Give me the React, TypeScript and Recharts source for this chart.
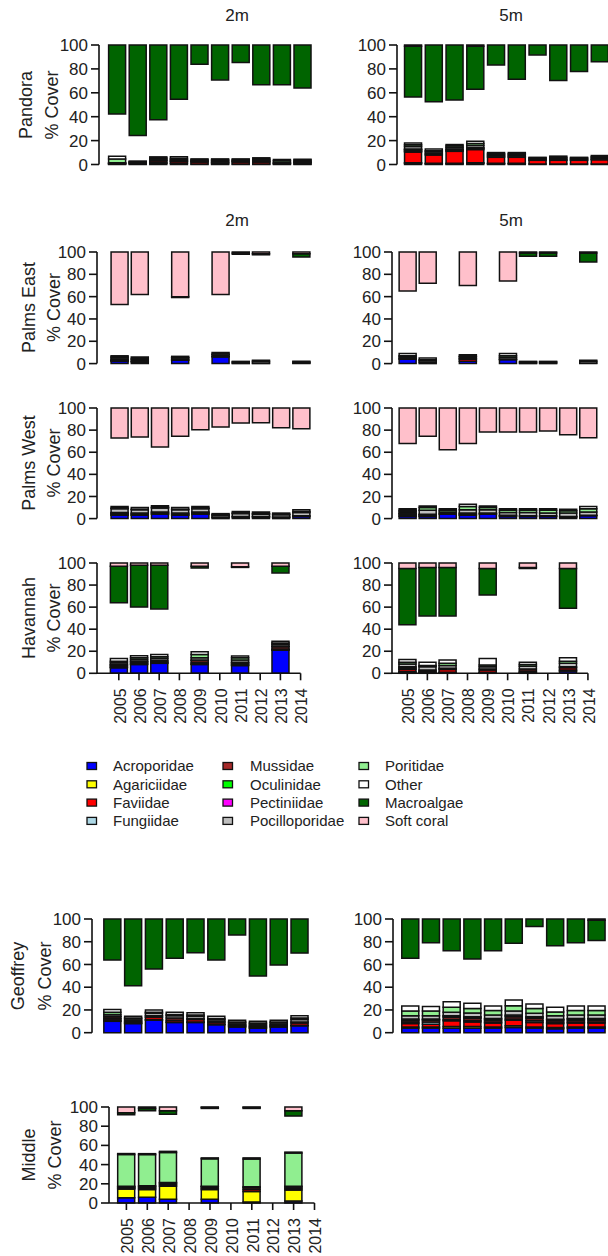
import React from 'react';
import { BarChart, Bar, XAxis, YAxis } from 'recharts';

const FONT = '"Liberation Sans", Arial, Helvetica, sans-serif';

const YEARS = ['2005', '2006', '2007', '2008', '2009', '2010', '2011', '2012', '2013', '2014'];
const Y_TICKS = [0, 20, 40, 60, 80, 100];

const SERIES_NAMES = [
  'Acroporidae', 'Agariciidae', 'Faviidae', 'Fungiidae', 'Mussidae', 'Oculinidae',
  'Pectiniidae', 'Pocilloporidae', 'Poritidae', 'Other', 'Macroalgae', 'Soft coral',
];
const SERIES_KEYS = ['acro', 'agar', 'favi', 'fung', 'muss', 'ocul', 'pect', 'poci', 'pori', 'other', 'macro', 'soft'];
const SERIES_COLORS = [
  '#0000FF', '#FFFF00', '#FF0000', '#ADD8E6', '#A52A2A', '#00FF00',
  '#FF00FF', '#BEBEBE', '#90EE90', '#FFFFFF', '#006400', '#FFC0CB',
];

// rows per year: [acro, agar, favi, fung, muss, ocul, pect, poci, pori, other, macro, soft]
const pandora2m = [
  [0.3, 0, 0.5, 0, 0.3, 0, 0, 0.4, 3, 2.5, 57.8, 0],
  [0.5, 0, 0.5, 0, 0.5, 0, 0, 0.5, 0.5, 0.3, 75.8, 0],
  [1, 0.5, 1.5, 0, 0.5, 0, 0, 1, 1, 0.9, 62.5, 0],
  [1, 0, 1.5, 0, 0.5, 0, 0, 1, 1, 1.4, 45.3, 0],
  [0.5, 0, 1.5, 0, 0.5, 0, 0, 0.7, 0.7, 0.8, 16.1, 0],
  [0.5, 0, 1, 0, 0.5, 0, 0, 1, 0.9, 0.8, 29.2, 0],
  [0.5, 0, 1.5, 0, 0.5, 0, 0, 0.7, 0.7, 0.8, 14.7, 0],
  [0.5, 0, 1.5, 0, 0.5, 0, 0, 1, 1, 1.1, 33.3, 0],
  [0.5, 0, 0.5, 0, 0, 0, 0, 0.7, 1.5, 1, 33.3, 0],
  [0.5, 0, 1, 0, 0.3, 0, 0, 1, 1, 0.5, 36, 0],
];
const pandora5m = [
  [1, 0.5, 9, 0.5, 1, 0.5, 0.5, 2, 1.5, 1.5, 42.5, 1],
  [0.5, 0.5, 7, 0, 1, 0, 0, 1.5, 1, 1.5, 47.5, 0],
  [0.5, 0.5, 10, 0, 1, 0.5, 0, 1.5, 1.5, 1.2, 46, 0],
  [1, 0.5, 11, 0, 1, 0.5, 0, 2, 1.5, 2, 36, 1],
  [0.5, 0.5, 5, 0, 1, 0, 0, 1, 1, 1, 16.7, 0],
  [0.5, 0.5, 5, 0, 1, 0, 0, 1, 1, 1, 28.6, 0],
  [0.5, 0, 3, 0, 0.5, 0, 0, 1, 0.5, 0.5, 8.3, 0],
  [0.5, 0, 3, 0, 0.5, 0, 0, 1, 1, 1, 29.7, 0],
  [0.5, 0, 3, 0, 0.5, 0, 0, 1, 0.5, 0.5, 22.2, 0],
  [0.5, 0, 3.5, 0, 0.5, 0, 0, 1, 1, 1, 14, 0],
];
const palmsEast2m = [
  [2, 0.5, 0.5, 0, 0.5, 0, 0, 1.5, 1, 1, 0, 47],
  [1.5, 0, 0.5, 0, 0, 0, 0, 1.5, 1, 1.5, 0, 38],
  null,
  [3, 0, 0.5, 0, 0, 0, 0, 1.5, 0.5, 1, 0.8, 40],
  null,
  [6, 0, 0.5, 0, 0, 0, 0, 1.5, 0.5, 1.5, 0, 38],
  [0.5, 0, 0, 0, 0, 0, 0, 1, 0, 0.5, 1, 1],
  [0.5, 0, 0, 0, 0, 0, 0, 1.5, 0, 1, 1, 1.5],
  null,
  [0.5, 0, 0, 0, 0, 0, 0, 1, 0, 0.5, 3, 1.5],
];
const palmsEast5m = [
  [4, 0, 0.5, 0, 0, 0, 0, 1.5, 1, 2, 0, 35],
  [1, 0, 0, 0, 0, 0, 0, 1.5, 1, 1.5, 0, 28],
  null,
  [2, 0, 2, 0, 0.5, 0, 0, 1.5, 0.5, 1.5, 0, 30],
  null,
  [3.5, 0, 0.5, 0, 0, 0, 0, 1.5, 1.5, 2, 0, 26],
  [0.5, 0, 0, 0, 0, 0, 0, 1, 0, 0.5, 3, 0.8],
  [0.5, 0, 0, 0, 0, 0, 0, 1, 0, 0.5, 3, 0.8],
  null,
  [0.5, 0, 0, 0, 0, 0, 0, 1.5, 0, 1, 8, 1],
];
const palmsWest2m = [
  [3, 0.5, 1, 0.5, 0.5, 0, 0, 3.5, 0.5, 1.5, 0, 27.1],
  [3, 0.5, 1, 0, 0.5, 0, 0, 3, 0.5, 1.5, 0, 26.2],
  [4, 0.5, 1, 0, 0.5, 0, 0, 3.5, 0.7, 1.5, 0, 35.2],
  [3, 0.5, 1, 0, 0.5, 0, 0, 3, 0.5, 1.5, 0, 25.6],
  [4, 0.5, 1, 0, 0.5, 0, 0, 3, 0.5, 1.5, 0, 19.6],
  [1, 0, 0.5, 0, 0, 0, 0, 1.5, 0.5, 1, 0, 17.2],
  [1.5, 0, 0.5, 0, 0, 0, 0, 2.5, 0.5, 1.5, 0, 13.6],
  [1.5, 0, 0.5, 0, 0, 0, 0, 2, 0.5, 1.5, 0, 13.3],
  [1, 0, 0.5, 0, 0, 0, 0, 2, 0.5, 1, 0, 17.8],
  [2, 0, 0.5, 0, 0, 0, 0, 3, 1, 1.5, 0, 18.7],
];
const palmsWest5m = [
  [2, 0.5, 1.5, 0.5, 0.5, 0, 0, 1.5, 1, 1.5, 0, 32.2],
  [2, 0.5, 1, 0, 0.5, 0, 0, 3.5, 2.5, 1.5, 0, 25.6],
  [4, 0, 0.5, 0, 0, 0, 0, 1.5, 1.5, 1.5, 0, 37.7],
  [3, 0.5, 1, 0, 0.5, 0, 0, 3, 3, 2, 0, 32.2],
  [4, 0, 0.5, 0, 0.5, 0, 0, 3, 2, 1.5, 0, 21.7],
  [2, 0, 0.5, 0, 0.5, 0, 0, 2.5, 2, 1.5, 0, 21.7],
  [2, 0, 0.5, 0, 0, 0, 0, 3, 2, 1.5, 0, 21.7],
  [2, 0, 0.5, 0, 0, 0, 0, 2.5, 2.5, 1.5, 0, 20.8],
  [1.5, 0, 0.5, 0, 0, 0, 0, 3, 2, 1.5, 0, 24.1],
  [2.5, 0, 0.5, 0, 0, 0, 0, 3, 3, 2, 0, 26.8],
];
const havannah2m = [
  [5, 0.5, 1, 0, 1, 0.5, 0, 1.5, 1.5, 2.5, 33, 3],
  [8, 0.5, 1, 0, 1, 0.5, 0, 1.5, 1.5, 2, 38, 2],
  [9, 0.5, 1, 0, 1, 0, 0, 2, 1.5, 2, 39.6, 2],
  null,
  [8, 0.5, 1, 0, 2, 0.5, 0, 2, 3, 2.6, 1.5, 3],
  null,
  [7, 0.5, 1, 0, 1, 0.5, 0, 2, 2, 1.7, 0.5, 3.5],
  null,
  [21, 0.5, 0.5, 0, 2, 0.5, 0, 1.5, 1.5, 1.5, 6, 3],
  null,
];
const havannah5m = [
  [0.5, 1, 2, 0.5, 1, 1, 0, 2.5, 1.5, 2.5, 51, 5],
  [0.5, 0.5, 1, 0, 1, 0, 0, 3, 1, 3, 44, 4],
  [0.5, 0.5, 2.5, 0, 1, 0, 0, 2.5, 2, 3, 44, 4],
  null,
  [0.5, 0.5, 2, 0, 1, 0, 0, 2, 1.5, 6, 24, 5],
  null,
  [0.5, 0.5, 1, 0, 2, 0, 0, 2.5, 1.5, 2, 1, 4],
  null,
  [2, 1, 2, 0, 1, 0, 0, 3, 2, 3, 36, 5],
  null,
];
const geoffrey2m = [
  [10, 0.5, 1.5, 0.5, 1.5, 0.5, 0, 1.5, 2, 2.5, 36.1, 0],
  [8, 0.5, 1, 0, 1, 0, 0, 1.5, 1, 1.5, 58.7, 0],
  [11, 0.5, 2, 0, 1.5, 0, 0, 2, 1, 2, 44, 0],
  [9, 0.5, 1.5, 0, 2, 0, 0, 2, 1, 2, 34.6, 0],
  [9, 0.5, 2, 0, 1, 0, 0, 2, 1, 2, 29.6, 0],
  [7, 0.5, 1.5, 0, 1, 0, 0, 1.5, 1, 2, 36.1, 0],
  [5, 0.5, 1, 0, 0.5, 0, 0, 1.5, 1, 1.5, 14.1, 0],
  [4, 0.5, 1, 0, 0.5, 0, 0, 1.5, 1, 1.5, 50.1, 0],
  [5, 0.5, 1, 0, 0.5, 0, 0, 1.5, 1, 1.5, 40.5, 0],
  [6, 0.5, 2, 0, 1, 0, 0, 2, 1.5, 2, 30, 0],
];
const geoffrey5m = [
  [4, 1, 3, 1, 1.5, 1, 0.5, 3, 4, 4.5, 34.6, 0],
  [4, 1, 2.5, 2, 1.5, 0.5, 0.5, 3, 4, 4, 20.8, 0],
  [4, 1.5, 5, 1, 2, 1, 0.5, 3, 4.3, 5, 27.9, 0],
  [4, 1.5, 4, 1, 2, 1, 0.5, 3.3, 4, 4.5, 35.2, 0],
  [4, 1, 3.5, 1, 1.5, 1, 0.5, 3, 4, 4, 27.9, 0],
  [4.5, 1.5, 5, 1, 2, 1, 0.5, 3.5, 4.7, 5, 21.4, 0],
  [4, 1, 4, 1.5, 2, 1, 0.5, 3, 4.2, 4, 6.7, 0],
  [3.5, 1, 3.5, 1, 1.5, 1, 0.3, 3, 3.5, 4, 23.5, 0],
  [4, 1, 3.5, 1, 1.5, 1, 0.5, 3, 4, 4, 20.8, 0],
  [4, 1, 3.5, 1, 1.5, 1, 0.5, 3, 4, 4, 18, 1],
];
const middle2m = [
  [5.5, 9, 1, 0.5, 1, 0, 0, 0.5, 33, 1, 2, 6],
  [6, 8, 1.5, 0, 1.5, 0, 0, 1, 32.4, 1, 2.5, 1.5],
  [4, 13.5, 1.5, 0, 1.5, 0, 0, 0.8, 31.3, 1.2, 3.5, 4],
  null,
  [4, 10, 1.5, 0, 1.5, 0, 0, 0.5, 28.5, 1, 1, 0.5],
  null,
  [1, 11, 2, 0, 2, 0, 0, 1, 28.8, 1.2, 1, 0.5],
  null,
  [2, 11.5, 1.5, 0, 1.5, 0, 0, 1, 34.5, 1, 5.5, 4],
  null,
];

type Row = number[] | null;

function buildData(rows: Row[]) {
  return YEARS.map((year, i) => {
    const r = rows[i];
    const d: Record<string, any> = { year };
    if (!r) return d;
    SERIES_KEYS.forEach((k, j) => {
      d[k] = r[j];
    });
    const coral = r.slice(0, 10).reduce((a, b) => a + b, 0);
    d.gap = Math.max(0, 100 - coral - r[10] - r[11]);
    return d;
  });
}

const YearTick = (props: any) => {
  const { x, y, payload } = props;
  return (
    <text
      transform={`translate(${x + 1},${y}) rotate(-90)`}
      textAnchor="end"
      dy="0.36em"
      fontSize={16}
      fill="#222"
      fontFamily={FONT}
    >
      {payload.value}
    </text>
  );
};

type PanelCfg = {
  rows: Row[];
  axisX: number;
  y100: number;
  y0: number;
  firstCenter: number;
  pitch: number;
  showX?: boolean;
};

const PANELS: PanelCfg[] = [
  { rows: pandora2m, axisX: 99, y100: 45, y0: 164.5, firstCenter: 117.2, pitch: 20.6 },
  { rows: pandora5m, axisX: 397, y100: 45, y0: 164.5, firstCenter: 413.2, pitch: 20.75 },
  { rows: palmsEast2m, axisX: 96.5, y100: 251.7, y0: 363.3, firstCenter: 119, pitch: 20.2 },
  { rows: palmsEast5m, axisX: 391.5, y100: 251.7, y0: 363.3, firstCenter: 407, pitch: 20.07 },
  { rows: palmsWest2m, axisX: 96.5, y100: 407.7, y0: 518.3, firstCenter: 119, pitch: 20.2 },
  { rows: palmsWest5m, axisX: 391.5, y100: 407.7, y0: 518.3, firstCenter: 407, pitch: 20.07 },
  { rows: havannah2m, axisX: 96.5, y100: 563, y0: 673.3, firstCenter: 118.3, pitch: 20.2, showX: true },
  { rows: havannah5m, axisX: 391.5, y100: 563, y0: 673.3, firstCenter: 406.8, pitch: 20.07, showX: true },
  { rows: geoffrey2m, axisX: 92, y100: 919, y0: 1032.7, firstCenter: 112.5, pitch: 20.8 },
  { rows: geoffrey5m, axisX: 393.3, y100: 919, y0: 1032.7, firstCenter: 410.7, pitch: 20.7 },
  { rows: middle2m, axisX: 108.5, y100: 1106.7, y0: 1202.7, firstCenter: 125.9, pitch: 20.9, showX: true },
];

const Y_LABELS = [
  { name: 'Pandora', b1: 32, b2: 57.5, cy: 105 },
  { name: 'Palms East', b1: 35, b2: 60, cy: 307.5 },
  { name: 'Palms West', b1: 35, b2: 60, cy: 463 },
  { name: 'Havannah', b1: 35, b2: 60, cy: 618 },
  { name: 'Geoffrey', b1: 23.5, b2: 50.5, cy: 976 },
  { name: 'Middle', b1: 35, b2: 61, cy: 1155 },
];

const TITLES = [
  { text: '2m', x: 237, y: 15 },
  { text: '5m', x: 511, y: 15 },
  { text: '2m', x: 237, y: 220 },
  { text: '5m', x: 511, y: 220 },
];

const AXIS_STYLE = { stroke: '#111', strokeWidth: 1.6 };

function Panel({ cfg }: { cfg: PanelCfg }) {
  const { rows, axisX, y100, y0, firstCenter, pitch, showX } = cfg;
  const data = buildData(rows);
  const YW = 60;
  const MT = 12;
  const XH = showX ? 70 : 0;
  const MB = showX ? 0 : 14;
  const EXTRA = 20;
  const plotH = y0 - y100;
  const bandStart = firstCenter - pitch / 2;
  const padL = bandStart - axisX;
  const lastCenter = firstCenter + 9 * pitch;
  const plotRight = showX ? lastCenter : bandStart + 10 * pitch;
  const padR = showX ? -pitch / 2 : 0;
  const left = axisX - YW;
  const width = plotRight + EXTRA - left;
  const height = MT + plotH + XH + MB;
  return (
    <div style={{ position: 'absolute', left, top: y100 - MT, width, height }}>
      <BarChart
        width={width}
        height={height}
        data={data}
        margin={{ top: MT, right: EXTRA, bottom: MB, left: 0 }}
        barCategoryGap="8.33%"
      >
        <XAxis
          dataKey="year"
          hide={!showX}
          height={XH}
          padding={{ left: padL, right: padR }}
          tickSize={7}
          tickMargin={8}
          interval={0}
          tick={<YearTick />}
          axisLine={AXIS_STYLE}
          tickLine={AXIS_STYLE}
        />
        <YAxis
          type="number"
          width={YW}
          domain={[0, 100]}
          ticks={Y_TICKS}
          interval={0}
          tickSize={8}
          tickMargin={3}
          axisLine={AXIS_STYLE}
          tickLine={AXIS_STYLE}
          tick={{ fontSize: 17, fill: '#222', fontFamily: FONT }}
        />
        {SERIES_KEYS.slice(0, 10).map((k, j) => (
          <Bar
            key={k}
            dataKey={k}
            stackId="s"
            fill={SERIES_COLORS[j]}
            stroke="#111"
            strokeWidth={1.5}
            isAnimationActive={false}
          />
        ))}
        <Bar dataKey="gap" stackId="s" fill="none" stroke="none" isAnimationActive={false} />
        {SERIES_KEYS.slice(10).map((k, j) => (
          <Bar
            key={k}
            dataKey={k}
            stackId="s"
            fill={SERIES_COLORS[10 + j]}
            stroke="#111"
            strokeWidth={1.5}
            isAnimationActive={false}
          />
        ))}
      </BarChart>
    </div>
  );
}

const LEGEND_COLS = [
  { boxX: 87, textX: 113 },
  { boxX: 223, textX: 250 },
  { boxX: 359, textX: 385 },
];
const LEGEND_ROWS = [766, 784.3, 802.6, 820.9];

function Overlay() {
  return (
    <svg
      width={608}
      height={1256}
      style={{ position: 'absolute', left: 0, top: 0, pointerEvents: 'none' }}
      fontFamily={FONT}
    >
      {TITLES.map((t, i) => (
        <text key={i} x={t.x} y={t.y} textAnchor="middle" dy="0.36em" fontSize={17} fill="#222">
          {t.text}
        </text>
      ))}
      {Y_LABELS.map((l, i) => (
        <g key={i}>
          <text transform={`translate(${l.b1},${l.cy}) rotate(-90)`} textAnchor="middle" fontSize={18} fill="#222">
            {l.name}
          </text>
          <text transform={`translate(${l.b2},${l.cy}) rotate(-90)`} textAnchor="middle" fontSize={18} fill="#222">
            % Cover
          </text>
        </g>
      ))}
      {SERIES_NAMES.map((name, i) => {
        const col = LEGEND_COLS[Math.floor(i / 4)];
        const cy = LEGEND_ROWS[i % 4];
        return (
          <g key={name}>
            <rect x={col.boxX} y={cy - 3.5} width={9.5} height={7} fill={SERIES_COLORS[i]} stroke="#111" strokeWidth={1.3} />
            <text x={col.textX} y={cy} dy="0.36em" fontSize={15} fill="#222">
              {name}
            </text>
          </g>
        );
      })}
    </svg>
  );
}

export default function App() {
  return (
    <div
      style={{
        position: 'absolute',
        left: 0,
        top: 0,
        width: 608,
        height: 1256,
        overflow: 'hidden',
        background: '#fff',
        fontFamily: FONT,
      }}
    >
      {PANELS.map((p, i) => (
        <Panel key={i} cfg={p} />
      ))}
      <Overlay />
    </div>
  );
}
